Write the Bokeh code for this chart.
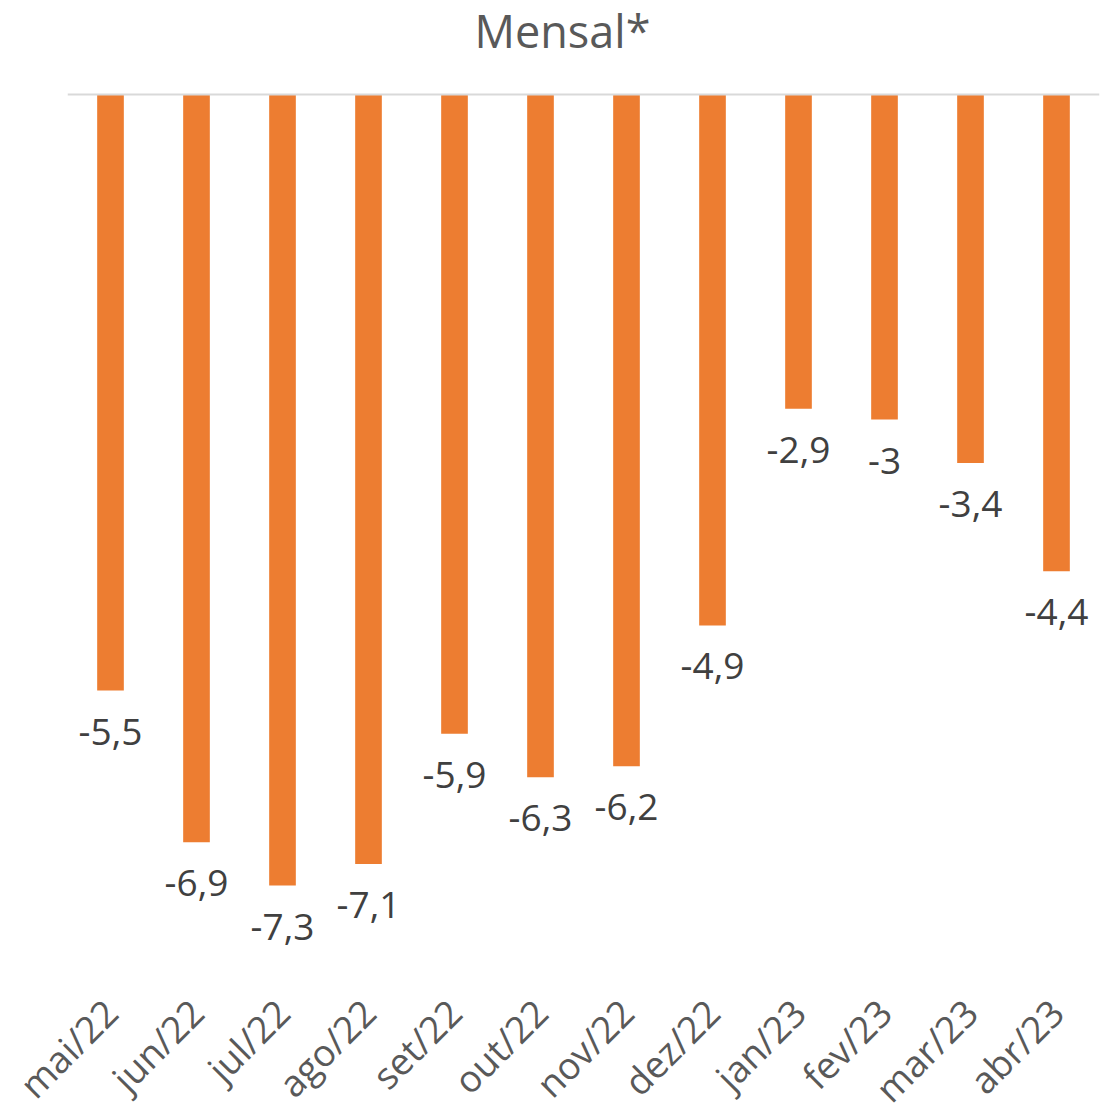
from bokeh.plotting import figure
from bokeh.models import ColumnDataSource, Range1d, Span
from bokeh.core.properties import value
from bokeh.embed import file_html
from bokeh.resources import INLINE
import math

months = ["mai/22", "jun/22", "jul/22", "ago/22", "set/22", "out/22",
          "nov/22", "dez/22", "jan/23", "fev/23", "mar/23", "abr/23"]
values = [-5.5, -6.9, -7.3, -7.1, -5.9, -6.3, -6.2, -4.9, -2.9, -3.0, -3.4, -4.4]
labels = ["-5,5", "-6,9", "-7,3", "-7,1", "-5,9", "-6,3", "-6,2", "-4,9", "-2,9", "-3", "-3,4", "-4,4"]
title_text = "Mensal*"

FONT = "Open Sans"
src = ColumnDataSource(dict(x=months, top=values, lab=labels))

Y_MIN, Y_MAX = -8.13, 0.8675
p = figure(x_range=months, y_range=Range1d(Y_MIN, Y_MAX), frame_width=1032, frame_height=975,
           output_backend="svg", toolbar_location=None,
           min_border_left=67, min_border_right=11, min_border_top=0, min_border_bottom=4)
p.outline_line_color = None
p.background_fill_color = "white"
p.border_fill_color = "white"
p.xgrid.grid_line_color = None
p.ygrid.grid_line_color = None
p.yaxis.visible = False
p.x_range.range_padding = 0

p.vbar(x="x", top="top", bottom=0, width=0.31, source=src, color="#ED7D31", line_color=None)
p.add_layout(Span(location=0, dimension="width", line_color="#D9D9D9", line_width=2))

p.text(x="x", y="top", text="lab", source=src, text_align="center", text_baseline="middle",
       y_offset=41, text_font=value(FONT), text_font_size="37px", text_color="#404040")

# chart title, drawn inside the (extended) frame above the zero line
p.text(x=[months[5]], y=[Y_MAX * 0.68], text=[title_text], x_offset=22,
       text_align="center", text_baseline="middle", text_font=value(FONT),
       text_font_size="45px", text_color="#595959")

ax = p.xaxis[0]
ax.axis_line_color = None
ax.major_tick_line_color = None
ax.minor_tick_line_color = None
ax.major_label_orientation = math.pi / 4
ax.major_label_text_font = FONT
ax.major_label_text_font_size = "37px"
ax.major_label_text_color = "#595959"
ax.major_label_standoff = 24

open("out.html", "w").write(file_html(p, INLINE))
